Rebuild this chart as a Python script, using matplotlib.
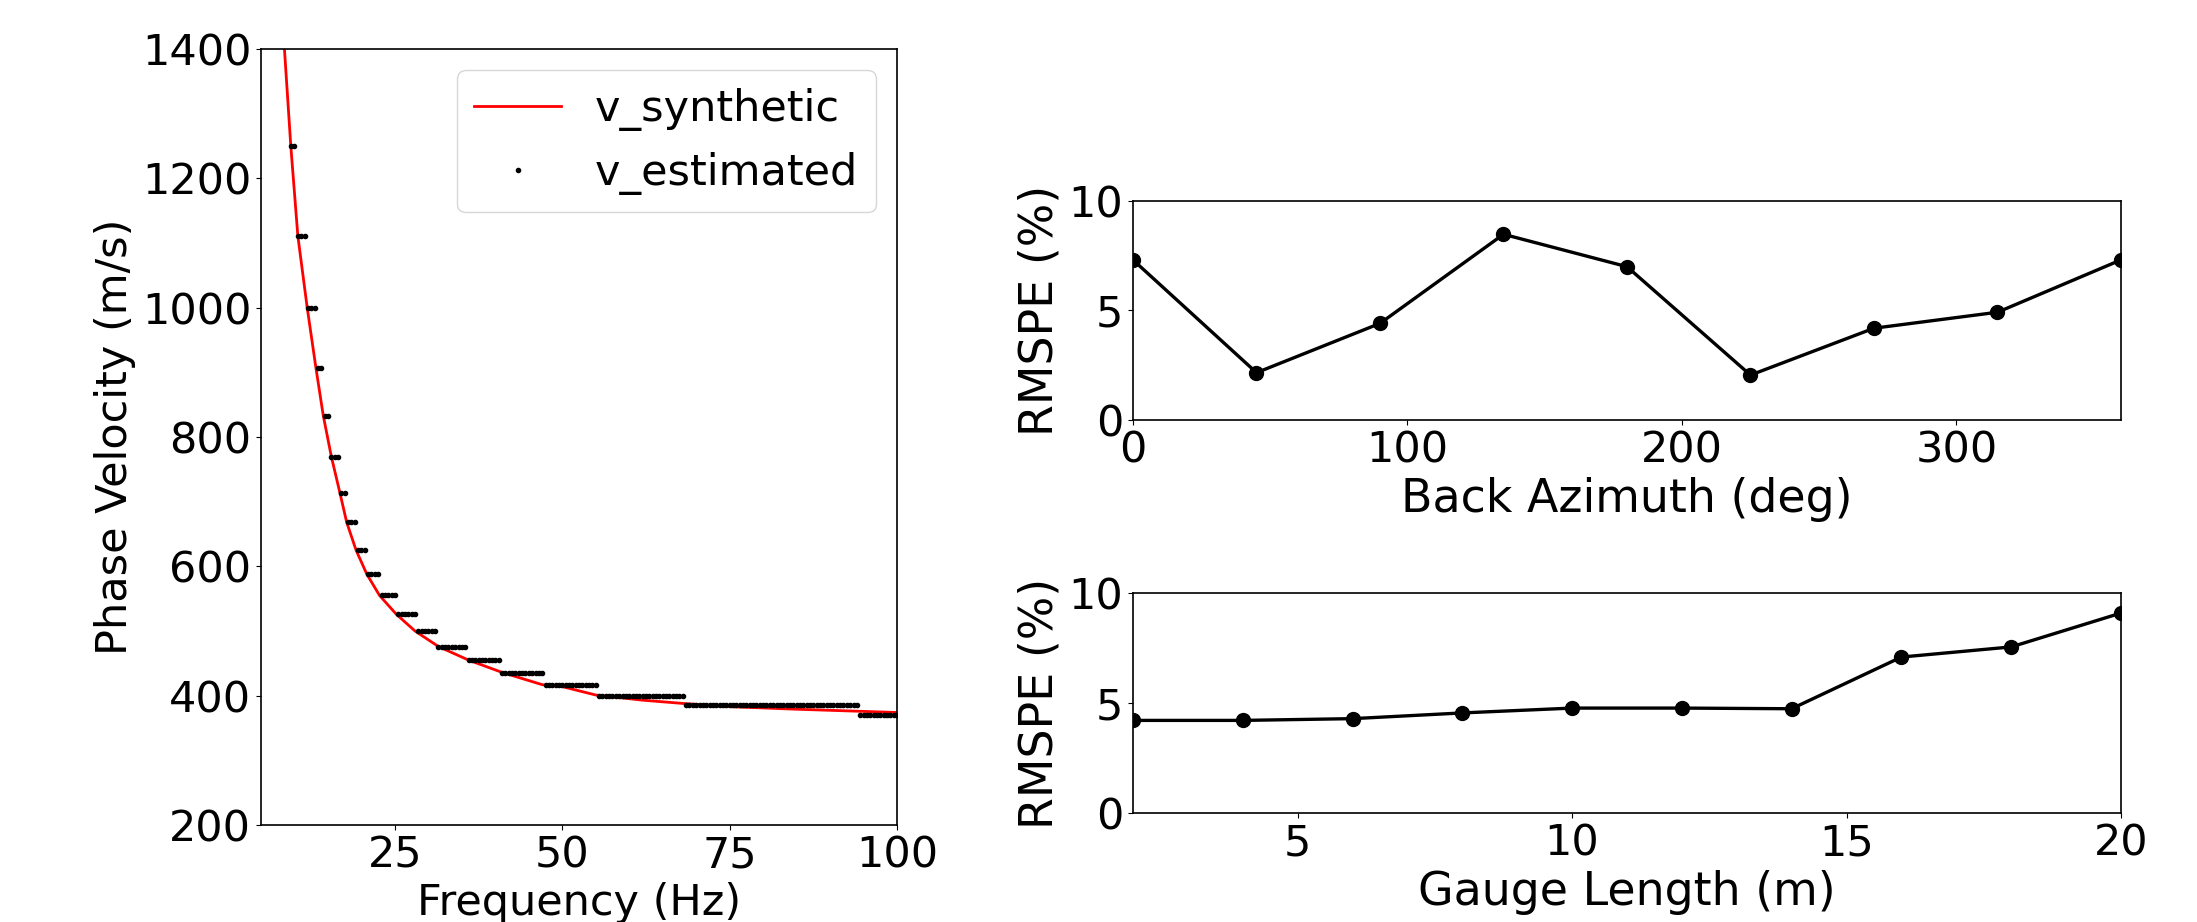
import numpy as np
import matplotlib
matplotlib.use("Agg")
import matplotlib.pyplot as plt

# courbe synthetique (Hz, m/s)
f_syn = [8.5, 9.45, 10.5, 11.9, 13.2, 14.3, 15.5, 16.8, 17.8, 19.2, 20.8, 22.7,
         25.2, 28.0, 31.5, 36.0, 41.0, 47.0, 50.0, 55.0, 62.0, 68.0, 75.0, 85.0,
         94.0, 100.0]
v_syn = [1400, 1250, 1111, 1000, 907, 833, 770, 713, 668, 625, 588, 555,
         526, 500, 476, 455, 436, 417, 414, 401, 393, 388, 383, 379,
         376, 374]

# vitesses estimees: niveaux et plages de frequence de chaque palier
v_levels = [1250, 1111, 1000, 907, 833, 769, 713, 668, 625, 588, 555, 526,
            500, 476, 455, 435, 416, 400, 385, 370]
seg_start = [9.5, 10.5, 12.0, 13.5, 14.5, 15.5, 17.0, 18.0, 19.5, 21.0, 23.0, 25.5,
             28.5, 31.5, 36.0, 41.0, 47.5, 55.5, 68.5, 94.5]
seg_end = [10.0, 11.5, 13.0, 14.0, 15.0, 16.5, 17.5, 19.0, 20.5, 22.5, 25.0, 28.0,
           31.0, 35.5, 40.5, 47.0, 55.0, 68.0, 94.0, 100.0]
df = 0.5  # pas en frequence

# RMSPE en fonction de l'azimut
baz = [0, 45, 90, 135, 180, 225, 270, 315, 360]
rmspe_baz = [7.31, 2.16, 4.41, 8.48, 7.0, 2.05, 4.19, 4.92, 7.31]

# RMSPE en fonction de la longueur de jauge
gauge = [2, 4, 6, 8, 10, 12, 14, 16, 18, 20]
rmspe_gauge = [4.21, 4.21, 4.29, 4.55, 4.77, 4.77, 4.74, 7.09, 7.55, 9.09]

plt.rcParams['font.size'] = 31
plt.rcParams['xtick.labelsize'] = 31
plt.rcParams['ytick.labelsize'] = 31
plt.rcParams['axes.labelsize'] = 33
plt.rcParams['legend.fontsize'] = 31

fig = plt.figure(figsize=(21.97, 9.22), dpi=100)
ax1 = fig.add_axes([0.1188, 0.1052, 0.2895, 0.8417])
ax2 = fig.add_axes([0.5157, 0.5445, 0.4497, 0.2375])
ax3 = fig.add_axes([0.5157, 0.1182, 0.4497, 0.2386])

# panneau gauche
f_est, v_est = [], []
for v, a, b in zip(v_levels, seg_start, seg_end):
    ff = np.arange(a, b + df / 2, df)
    f_est.extend(ff)
    v_est.extend([v] * len(ff))

ax1.plot(f_syn, v_syn, color='red', lw=2, label='v_synthetic')
ax1.plot(f_est, v_est, '.', color='black', ms=6, label='v_estimated')
ax1.set_xlim(5, 100)
ax1.set_ylim(200, 1400)
ax1.set_xticks([25, 50, 75, 100])
ax1.set_yticks(range(200, 1401, 200))
ax1.set_xlabel('Frequency (Hz)', fontsize=31)
ax1.set_ylabel('Phase Velocity (m/s)', fontsize=31)
ax1.legend(loc='upper right')

# panneaux de droite
ax2.plot(baz, rmspe_baz, '-o', color='black', lw=2.4, ms=10)
ax2.set_xlim(0, 360)
ax2.set_ylim(0, 10)
ax2.set_xticks([0, 100, 200, 300])
ax2.set_yticks([0, 5, 10])
ax2.set_xlabel('Back Azimuth (deg)')
ax2.set_ylabel('RMSPE (%)')

ax3.plot(gauge, rmspe_gauge, '-o', color='black', lw=2.4, ms=10)
ax3.set_xlim(2, 20)
ax3.set_ylim(0, 10)
ax3.set_xticks([5, 10, 15, 20])
ax3.set_yticks([0, 5, 10])
ax3.set_xlabel('Gauge Length (m)')
ax3.set_ylabel('RMSPE (%)')

for ax in (ax1, ax2, ax3):
    for sp in ax.spines.values():
        sp.set_linewidth(1.2)

fig.savefig('out.png', dpi=100)
